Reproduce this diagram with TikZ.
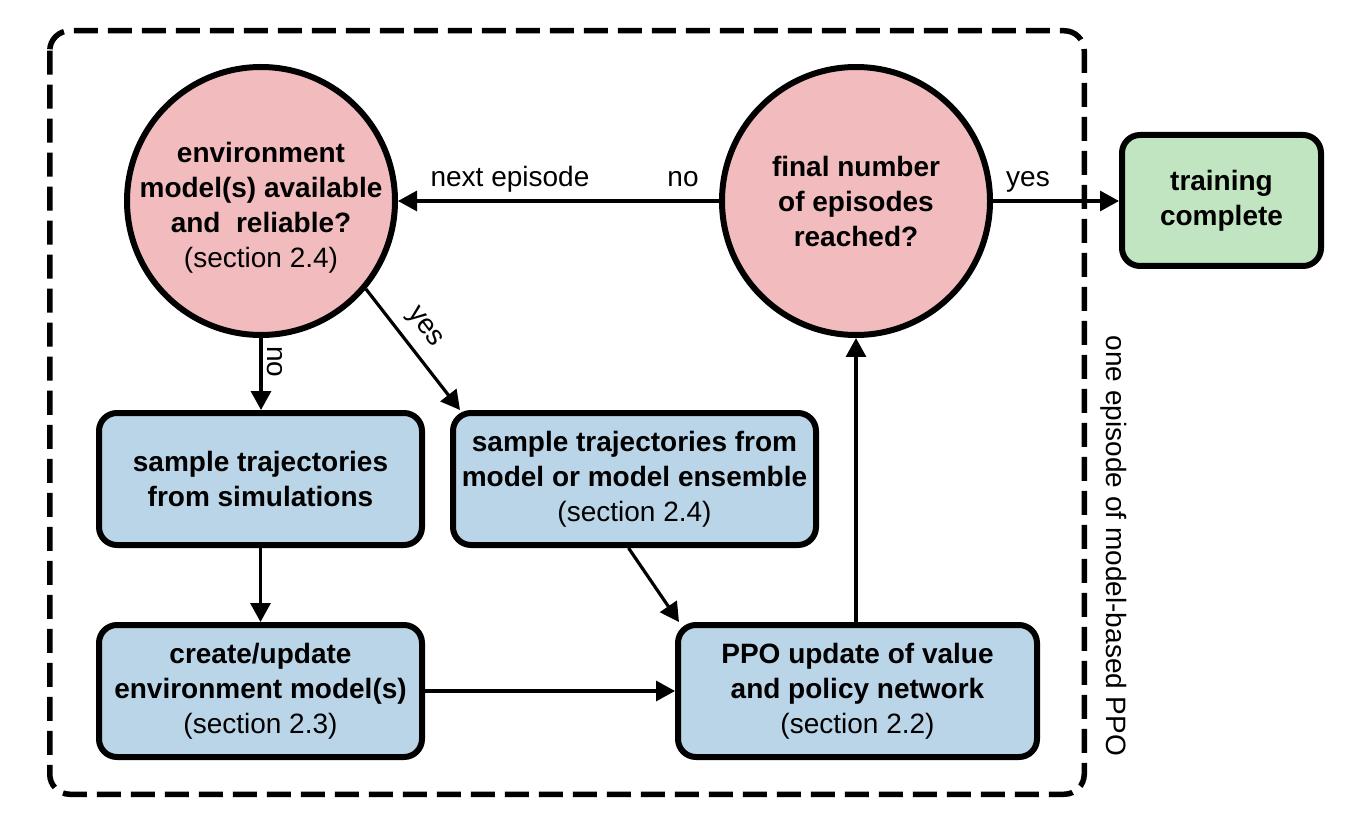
\documentclass[tikz,border=0pt]{standalone}
\usepackage{fontspec}
\setmainfont{Liberation Sans}
\usetikzlibrary{arrows.meta}
\definecolor{pinkfill}{RGB}{242,188,190}
\definecolor{bluefill}{RGB}{187,213,232}
\definecolor{greenfill}{RGB}{193,229,192}
\begin{document}
\begin{tikzpicture}[x=1pt,y=-1pt,
  txt/.style={font=\fontsize{28}{35}\selectfont},
  boldtxt/.style={font=\fontsize{28}{35}\selectfont\bfseries},
  decision/.style={circle, draw, line width=6pt, fill=pinkfill, minimum size=268pt, inner sep=0pt, align=center, boldtxt},
  process/.style={rectangle, rounded corners=18pt, draw, line width=6pt, fill=bluefill, inner sep=2pt, align=center, minimum height=132pt, boldtxt},
  terminal/.style={rectangle, rounded corners=18pt, draw, line width=6pt, fill=greenfill, inner sep=2pt, align=center, minimum width=199pt, minimum height=131pt, boldtxt},
  flow/.style={line width=3.2pt, -{Triangle[length=19pt,width=20pt]}},
  lbl/.style={txt, inner sep=0pt},
  frame/.style={line width=5.5pt, dash pattern=on 24pt off 10pt, rounded corners=20pt}
]
\useasboundingbox (0,0) rectangle (1358,818);
\fill[white] (0,0) rectangle (1358,818);

% dashed episode frame
\draw[frame] (49.75,30.75) rectangle (1084.25,794.25);

% nodes
\node[decision] (c1) at (261,201) {};
\node[lbl, boldtxt, align=center] (c1t) at (261,208) {environment\\model(s) available\\and~ reliable?\\\mdseries (section 2.4)};
\node[decision] (c2) at (856,201) {final number\\of episodes\\reached?};
\node[terminal] (t) at (1221.5,200.5) {training\\complete};
\node[process, minimum width=323pt] (a) at (260.5,479) {sample trajectories\\from simulations};
\node[process, minimum width=363pt] (b) at (634.5,479) {sample trajectories from\\model or model ensemble\\\mdseries (section 2.4)};
\node[process, minimum width=323pt] (cc) at (260.5,691) {create/update\\environment model(s)\\\mdseries (section 2.3)};
\node[process, minimum width=359pt] (d) at (857.5,691) {PPO update of value\\and policy network\\\mdseries (section 2.2)};

% connectors
\draw[flow] (c1.south) -- (c1.south |- a.north);
\draw[flow] (c1.-40) -- ([xshift=10pt]b.north west);
\draw[flow] (a.south) -- (cc.north);
\draw[flow] ([xshift=-6pt]b.south) -- ([xshift=4pt]d.north west);
\draw[flow] (cc.east) -- (d.west);
\draw[flow] (c2.south |- d.north) -- (c2.south);
\draw[flow] (c2.west) -- (c1.east);
\draw[flow] (c2.east) -- (c2.east -| t.west);

% labels
\node[lbl, anchor=base] (lnext) at (510,187) {next episode};
\node[lbl, anchor=base] (lno1) at (683,187) {no};
\node[lbl, anchor=base] (lyes1) at (1028,187) {yes};
\node[lbl, rotate=-90] (lno2) at (275,362) {no};
\node[lbl, rotate=-53] (lyes2) at (424,328) {yes};
\node[lbl, rotate=-90] (lep) at (1114,546) {one episode of model-based PPO};
\end{tikzpicture}
\end{document}
